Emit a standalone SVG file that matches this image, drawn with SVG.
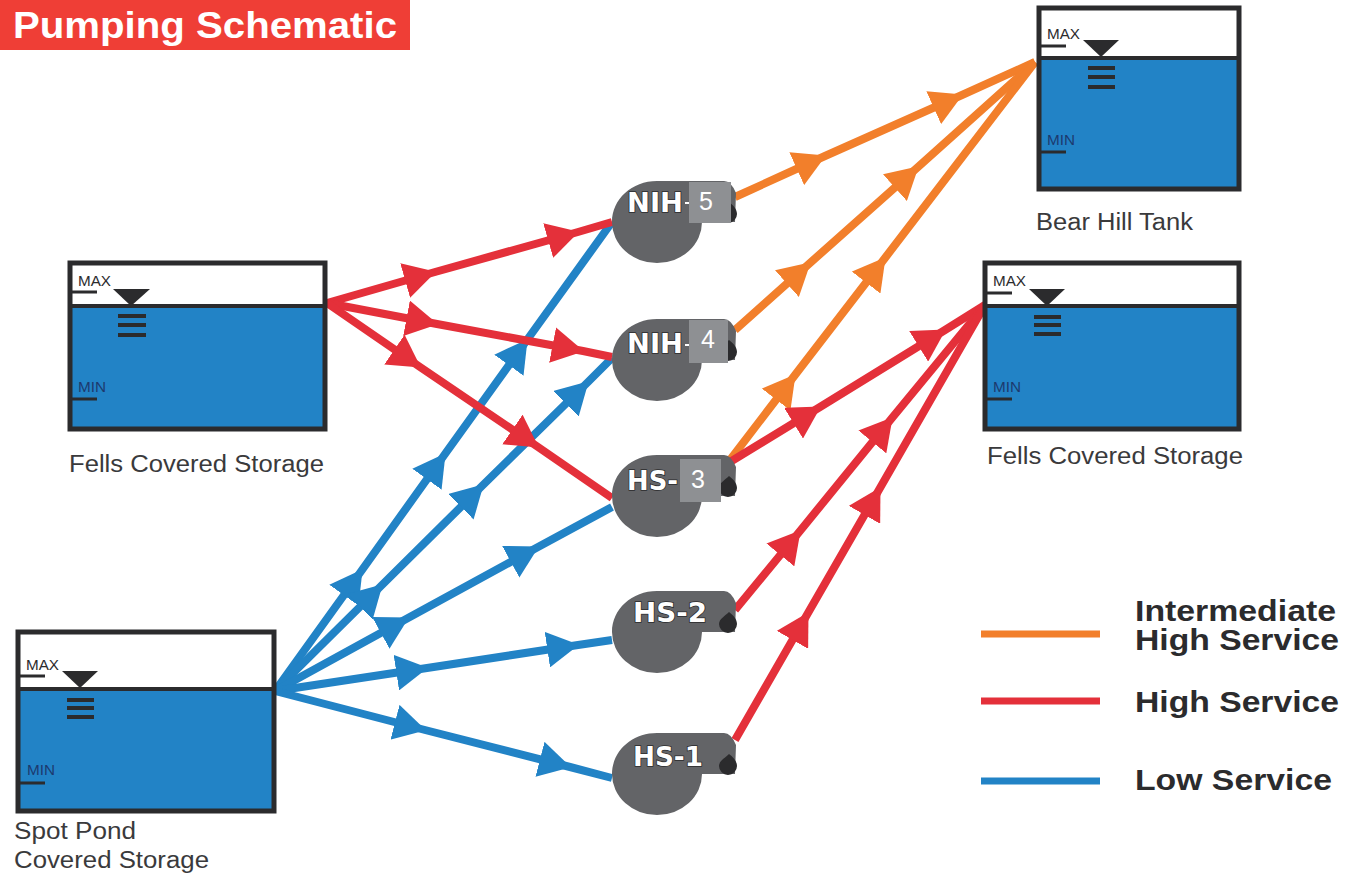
<svg xmlns="http://www.w3.org/2000/svg" width="1346" height="877" viewBox="0 0 1346 877">
<style>
text{font-family:"Liberation Sans",Arial,sans-serif}
.wall{fill:none;stroke:#2b2b2d;stroke-width:5}
.water{fill:#2283c6}
.tick{stroke:#2b2b2d;stroke-width:3;fill:none}
.bar{stroke:#2b2b2d;stroke-width:4;fill:none}
.lvl{fill:#2b2b2d}
.mx{font-size:14px;fill:#2b2b2d}
.mn{font-size:14px;fill:#1d3a6e}
.lab{font-size:23.5px;fill:#3a3a3c}
.leg{font-size:29px;font-weight:700;fill:#2b2b2d}
.c{fill:none;stroke-width:8}
.b{stroke:#2283c6;marker-mid:url(#ab)}
.r{stroke:#e4303a;marker-mid:url(#ar)}
.o{stroke:#f27f2b;marker-mid:url(#ao)}
.body{fill:#636467}
.noz{fill:#2b2b2d}
.box{fill:#8e9093}
.pl{font-family:"DejaVu Sans",sans-serif;font-size:27px;font-weight:700;fill:#fff;stroke:#2b2b2d;stroke-width:1.6;paint-order:stroke}
.dg{font-size:25px;fill:#fff;text-anchor:middle}
</style>
<defs>
<marker id="ab" markerUnits="userSpaceOnUse" markerWidth="32" markerHeight="36" refX="31" refY="18" orient="auto" viewBox="0 0 32 36"><path d="M0,0 L32,18 L0,36 Z" fill="#2283c6"/></marker>
<marker id="ar" markerUnits="userSpaceOnUse" markerWidth="32" markerHeight="36" refX="31" refY="18" orient="auto" viewBox="0 0 32 36"><path d="M0,0 L32,18 L0,36 Z" fill="#e4303a"/></marker>
<marker id="ao" markerUnits="userSpaceOnUse" markerWidth="32" markerHeight="36" refX="31" refY="18" orient="auto" viewBox="0 0 32 36"><path d="M0,0 L32,18 L0,36 Z" fill="#f27f2b"/></marker>
<g id="pump"><path class="body" d="M0,41 C0,18 20,0 45,0 L112,0 Q119,0 124,12 L123,41 L90,41 A45,41 0 0 1 45,82 A45,41 0 0 1 0,41 Z"/><path class="noz" d="M117,21 C121,24 125,28 125,33 A9,9 0 0 1 107,33 C107,28 113,25 117,21 Z"/></g>
</defs>
<rect width="1346" height="877" fill="#fff"/>
<g id="title"><rect x="0" y="0" width="410" height="50" fill="#ef3e36"/><text x="13" y="38" font-size="36" font-weight="700" fill="#fff" textLength="384" lengthAdjust="spacingAndGlyphs">Pumping Schematic</text></g>

<g id="connectors">
<polyline class="c b" points="275,691 362,570 445,454 527,340 612,222"/>
<polyline class="c b" points="275,691 382,585 483,485 588,382 612,358"/>
<polyline class="c b" points="275,691 408,618 538,547 612,507"/>
<polyline class="c b" points="275,691 427,668 578,645 612,640"/>
<polyline class="c b" points="275,691 425,730 570,767 612,778"/>
<polyline class="c r" points="327,303 435,272 578,232 612,222"/>
<polyline class="c r" points="327,303 437,324 583,351 612,357"/>
<polyline class="c r" points="327,303 420,367 538,447 612,498"/>
<polyline class="c o" points="735,197 825,156 962,95 1035,62"/>
<polyline class="c o" points="735,330 810,263 918,167 1035,62"/>
<polyline class="c o" points="730,460 795,375 885,258 1035,62"/>
<polyline class="c r" points="730,462 820,407 945,330 985,305"/>
<polyline class="c r" points="735,610 800,531 892,418 985,305"/>
<polyline class="c r" points="735,740 808,613 880,488 985,305"/>
</g>

<g id="tank-fells-left">
<rect class="water" x="70" y="306" width="255" height="123"/>
<rect class="wall" x="70" y="263" width="255" height="166"/>
<path class="wall" d="M70,306H325" style="stroke-width:4"/>
<path class="lvl" d="M113,289H150L131,306Z"/>
<path class="bar" d="M118,316H146M118,325H146M118,335H146"/>
<path class="tick" d="M70,292H97M70,399H97"/>
<text class="mx" x="78" y="286" textLength="33" lengthAdjust="spacingAndGlyphs">MAX</text><text class="mn" x="78" y="392" textLength="28" lengthAdjust="spacingAndGlyphs">MIN</text>
<text class="lab" x="69" y="472" textLength="255" lengthAdjust="spacingAndGlyphs">Fells Covered Storage</text>
</g>
<g id="tank-spot-pond">
<rect class="water" x="18" y="689" width="256" height="122"/>
<rect class="wall" x="18" y="632" width="256" height="179"/>
<path class="wall" d="M18,689H274" style="stroke-width:4"/>
<path class="lvl" d="M62,671H98L80,688Z"/>
<path class="bar" d="M67,700H94M67,708H94M67,717H94"/>
<path class="tick" d="M18,676H45M18,783H45"/>
<text class="mx" x="26" y="670" textLength="33" lengthAdjust="spacingAndGlyphs">MAX</text><text class="mn" x="27" y="775" textLength="28" lengthAdjust="spacingAndGlyphs">MIN</text>
<text class="lab" x="14" y="839" textLength="122" lengthAdjust="spacingAndGlyphs">Spot Pond</text>
<text class="lab" x="14" y="868" textLength="195" lengthAdjust="spacingAndGlyphs">Covered Storage</text>
</g>
<g id="tank-bear-hill">
<rect class="water" x="1039" y="58" width="200" height="131"/>
<rect class="wall" x="1039" y="8" width="200" height="181"/>
<path class="wall" d="M1039,58H1239" style="stroke-width:4"/>
<path class="lvl" d="M1083,40H1119L1101,57Z"/>
<path class="bar" d="M1088,68H1115M1088,77H1115M1088,87H1115"/>
<path class="tick" d="M1039,46H1066M1039,152H1066"/>
<text class="mx" x="1047" y="39" textLength="33" lengthAdjust="spacingAndGlyphs">MAX</text><text class="mn" x="1047" y="145" textLength="28" lengthAdjust="spacingAndGlyphs">MIN</text>
<text class="lab" x="1036" y="230" textLength="157" lengthAdjust="spacingAndGlyphs">Bear Hill Tank</text>
</g>
<g id="tank-fells-right">
<rect class="water" x="985" y="306" width="254" height="123"/>
<rect class="wall" x="985" y="263" width="254" height="166"/>
<path class="wall" d="M985,306H1239" style="stroke-width:4"/>
<path class="lvl" d="M1029,289H1065L1047,306Z"/>
<path class="bar" d="M1034,317H1061M1034,325H1061M1034,334H1061"/>
<path class="tick" d="M985,293H1012M985,399H1012"/>
<text class="mx" x="993" y="286" textLength="33" lengthAdjust="spacingAndGlyphs">MAX</text><text class="mn" x="993" y="392" textLength="28" lengthAdjust="spacingAndGlyphs">MIN</text>
<text class="lab" x="987" y="464" textLength="256" lengthAdjust="spacingAndGlyphs">Fells Covered Storage</text>
</g>

<g id="pump-nih5"><use href="#pump" x="612" y="181"/><rect class="box" x="689" y="182" width="42" height="41"/><text class="pl" x="627" y="212" textLength="56" lengthAdjust="spacingAndGlyphs">NIH</text><path d="M685,203H689" stroke="#fff" stroke-width="2"/><text class="dg" x="706" y="210">5</text></g>
<g id="pump-nih4"><use href="#pump" x="612" y="319"/><rect class="box" x="689" y="320" width="39" height="43"/><text class="pl" x="627" y="353" textLength="56" lengthAdjust="spacingAndGlyphs">NIH</text><path d="M685,345H689" stroke="#fff" stroke-width="2"/><text class="dg" x="708" y="348">4</text></g>
<g id="pump-hs3"><use href="#pump" x="612" y="455"/><rect class="box" x="680" y="459" width="41" height="43"/><text class="pl" x="627" y="490" textLength="51" lengthAdjust="spacingAndGlyphs">HS-</text><text class="dg" x="698" y="488">3</text></g>
<g id="pump-hs2"><use href="#pump" x="612" y="591"/><text class="pl" x="633" y="622" textLength="74" lengthAdjust="spacingAndGlyphs">HS-2</text></g>
<g id="pump-hs1"><use href="#pump" x="612" y="733"/><text class="pl" x="633" y="766" textLength="70" lengthAdjust="spacingAndGlyphs">HS-1</text></g>

<g id="legend">
<path d="M981,634H1100" stroke="#f27f2b" stroke-width="7"/>
<path d="M981,701H1100" stroke="#e4303a" stroke-width="7"/>
<path d="M981,781H1100" stroke="#2283c6" stroke-width="7"/>
<text class="leg" x="1135" y="621" textLength="201" lengthAdjust="spacingAndGlyphs">Intermediate</text>
<text class="leg" x="1135" y="650" textLength="204" lengthAdjust="spacingAndGlyphs">High Service</text>
<text class="leg" x="1135" y="712" textLength="204" lengthAdjust="spacingAndGlyphs">High Service</text>
<text class="leg" x="1135" y="790" textLength="197" lengthAdjust="spacingAndGlyphs">Low Service</text>
</g>
</svg>
